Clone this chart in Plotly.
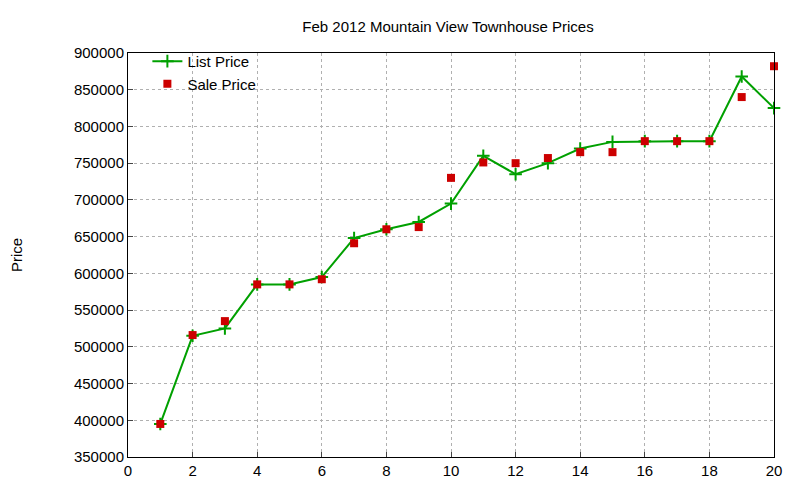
import plotly.graph_objects as go

x = list(range(1, 21))
list_price = [395000, 515000, 525000, 585000, 585000, 595000, 648000, 660000, 670000, 695000,
              760000, 735000, 750000, 770000, 779000, 780000, 780000, 780000, 868000, 825000]
sale_price = [395000, 516000, 535000, 585000, 585000, 592000, 641000, 660000, 663000, 730000,
              751000, 750000, 757000, 765000, 765000, 780000, 780000, 780000, 840000, 882000]

fig = go.Figure()
fig.add_trace(go.Scatter(x=x, y=list_price, mode="lines+markers", name="List Price",
                         line=dict(color="#00a000", width=2), cliponaxis=False,
                         marker=dict(symbol="cross-thin", size=9, line=dict(color="#00a000", width=2))))
fig.add_trace(go.Scatter(x=x, y=sale_price, mode="markers", name="Sale Price", cliponaxis=False,
                         marker=dict(symbol="square", size=8, color="#cc0000")))

grid = dict(showgrid=True, gridcolor="#b0b0b0", griddash="dot", gridwidth=1, automargin=False,
            showline=True, linecolor="black", mirror=True, ticks="inside", zeroline=False,
            tickfont=dict(size=15, color="black"))
fig.update_xaxes(range=[0, 20], dtick=2, **grid)
fig.update_yaxes(range=[350000, 900000], dtick=50000, tickformat="d",
                 title=dict(text="Price", font=dict(size=15, color="black"), standoff=48), **grid)
fig.update_layout(
    width=800, height=480, plot_bgcolor="white", paper_bgcolor="white",
    font=dict(family="Liberation Sans, Arial, sans-serif", size=15, color="black"),
    title=dict(text="Feb 2012 Mountain View Townhouse Prices", x=0.55, y=0.96, xanchor="center",
               yanchor="middle", font=dict(size=15)),
    margin=dict(l=120, r=34, t=45, b=31, autoexpand=False),
    legend=dict(x=0.03, y=1.02, xanchor="left", yanchor="top", bgcolor="rgba(0,0,0,0)",
                font=dict(size=15), tracegroupgap=0),
)
fig.write_html("out.html")
